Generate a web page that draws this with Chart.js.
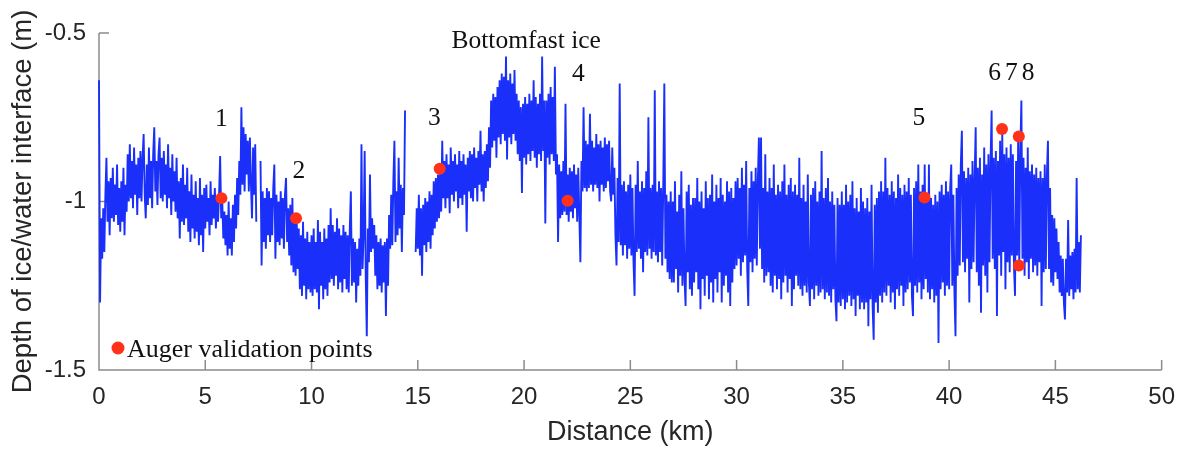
<!DOCTYPE html>
<html>
<head>
<meta charset="utf-8">
<script src="https://cdn.jsdelivr.net/npm/chart.js@4.4.1/dist/chart.umd.min.js"></script>
<style>
  html, body { margin: 0; padding: 0; background: #fff; }
  #wrap { width: 1188px; height: 453px; }
</style>
</head>
<body>
<div id="wrap"><canvas id="perfil" width="1188" height="453"></canvas></div>
<script>
// Depth of the ice/water interface, one reading every 0.05 km (null = no return)
// one row per km of track
const depth = [
  -0.64, -1.30, -1.05, -1.17, -1.02, -1.15, -0.98, -0.87, -1.06, -0.94, -1.10, -0.93, -1.05, -0.90, -1.06, -0.95, -1.04, -0.89, -1.07, -0.96, // 0
  -1.09, -0.94, -1.06, -0.90, -1.10, -0.95, -1.03, -0.86, -1.00, -0.83, -0.99, -0.88, -1.02, -0.84, -0.98, -0.89, -1.04, -0.87, -0.99, -0.85, // 1
  -1.00, -0.87, -0.80, -0.98, -1.05, -0.89, -1.01, -0.84, -0.99, -0.88, -1.02, -0.86, -0.78, -0.97, -0.88, -1.01, -0.86, -0.81, -0.99, -0.87, // 2
  -1.00, -0.85, -0.98, -0.89, -1.02, -0.83, -0.99, -0.90, -1.04, -0.86, -1.00, -0.91, -1.03, -0.87, -1.05, -0.94, -1.11, -0.93, -1.06, -0.89, // 3
  -1.07, -0.95, -1.05, -0.90, -1.09, -0.97, -1.12, -0.92, -1.08, -0.98, -1.11, -0.94, -1.09, -0.99, -1.13, -0.93, -1.10, -0.98, -1.15, -0.96, // 4
  -1.08, -0.95, -1.06, -0.99, -1.10, -0.94, -1.07, -0.98, -1.05, -0.96, -1.08, -0.99, -1.06, -0.98, -0.865, -1.05, -1.00, -1.11, -1.03, -1.13, // 5
  -1.04, -1.16, -1.00, -1.14, -1.05, -1.16, -1.01, -1.12, -0.98, -1.08, -0.93, -1.04, -0.88, -0.98, -0.72, -0.95, -0.78, -0.97, -0.80, -0.92, // 6
  -0.82, -0.97, -0.81, -0.95, -1.05, -0.84, -0.98, -0.83, -1.06, null, null, null, -0.88, -1.19, -0.97, -1.12, -0.99, -1.14, -0.96, -1.10, // 7
  -0.97, -1.12, -0.99, -1.10, -0.96, -0.89, -1.17, -0.98, -1.12, -1.00, -1.13, -0.97, -1.11, -0.99, -1.14, -0.98, -0.93, -1.12, -1.02, -1.16, // 8
  -1.01, -1.19, -0.99, -1.21, -1.04, -1.22, -1.05, -1.20, -1.08, -1.26, -1.10, -1.28, -1.06, -1.25, -1.11, -1.29, -1.09, -1.26, -1.12, -1.27, // 9
  -1.10, -1.28, -1.08, -1.26, -1.12, -1.27, -1.055, -1.32, -1.09, -1.25, -1.12, -1.29, -1.08, -1.26, -1.11, -1.28, -1.07, -1.24, -1.02, -1.23, // 10
  -1.07, -1.25, -1.09, -1.22, -1.05, -1.26, -1.08, -1.24, -1.10, -1.27, -1.07, -1.23, -1.09, -1.26, -1.10, -1.27, -1.08, -0.97, -1.25, -1.11, // 11
  -1.24, -1.12, -1.30, -1.14, -1.25, -1.11, -1.22, -0.83, -1.20, -1.10, -0.85, -1.22, -1.40, -1.08, -1.18, -0.92, -1.15, -1.05, -1.14, -1.07, // 12
  -1.22, -1.10, -1.26, -1.12, -1.25, -1.11, -1.27, -1.13, -1.24, -1.12, -1.34, -1.11, -1.25, -1.04, -1.14, -0.98, -1.13, -0.94, -0.82, -1.12, // 13
  -0.97, -1.10, -0.87, -1.08, -0.95, -1.15, -0.96, -1.04, -0.73, null, null, null, null, null, null, null, null, null, -1.15, -1.02, // 14
  -1.14, -0.98, -1.16, -1.02, -1.22, -1.01, -1.13, -0.99, -1.15, -1.00, -1.12, -0.97, -1.14, -0.98, -1.10, -0.94, -1.08, -0.93, -1.06, -0.92, // 15
  -1.05, -0.91, -1.03, -0.82, -0.99, -0.88, -1.02, -0.86, -0.99, -0.89, -1.035, -0.84, -0.98, -0.88, -1.00, -0.86, -0.97, -0.89, -1.02, -0.85, // 16
  -0.99, -0.88, -1.01, -0.86, -0.98, -0.89, -1.09, -0.87, -0.97, -0.85, -0.99, -0.86, -1.00, -0.84, -0.96, -0.87, -1.00, -0.85, -0.95, -0.79, // 17
  -0.97, -0.86, -1.00, -0.85, -0.96, -0.83, -0.94, -0.78, -0.90, -0.70, -0.84, -0.68, -0.82, -0.69, -0.87, -0.66, -0.81, -0.64, -0.83, -0.62, // 18
  -0.80, -0.63, -0.82, -0.57, -0.875, -0.64, -0.81, -0.62, -0.83, -0.65, -0.80, -0.61, -0.82, -0.68, -0.86, -0.70, -0.88, -0.72, -0.975, -0.71, // 19
  -0.87, -0.69, -0.89, -0.71, -0.86, -0.68, -0.88, -0.70, -0.85, -0.64, -0.87, -0.69, -0.90, -0.71, -0.86, -0.68, -0.88, -0.57, -0.85, -0.70, // 20
  -1.065, -0.70, -0.87, -0.68, -0.89, -0.66, -0.86, -0.69, -0.88, -0.60, -0.92, -0.86, -1.12, -0.89, -1.05, -0.91, -1.04, -0.88, -1.03, -0.71, // 21
  -1.04, -0.92, -1.06, -0.90, -1.03, -0.91, -1.05, -0.89, -1.02, -0.92, -1.06, -0.90, -1.04, -1.18, -0.88, -0.97, -0.72, -0.96, -0.82, -0.97, // 22
  -0.83, -0.96, -0.74, -0.95, -0.82, -0.97, -0.84, -0.95, -0.80, -0.96, -0.83, -1.00, -0.82, -0.95, -0.84, -0.97, -0.81, -0.96, -0.83, -0.94, // 23
  -0.82, -0.97, -1.00, -0.84, -0.98, -0.90, -1.10, -1.19, -0.93, -1.12, -0.65, -1.13, -0.95, -1.16, -0.94, -1.13, -0.97, -1.17, -0.95, -1.14, // 24
  -0.92, -1.16, -0.96, -1.18, -1.28, -0.95, -1.15, -0.88, -1.14, -0.97, -1.17, -0.94, -1.21, -0.96, -1.15, -0.91, -1.16, -0.75, -1.14, -0.96, // 25
  -1.17, -0.95, -1.15, -0.67, -1.16, -0.97, -1.18, -0.94, -1.15, -0.96, -1.19, -0.95, -0.65, -1.17, -0.98, -1.21, -1.00, -1.23, -0.97, -1.24, // 26
  -1.00, -1.24, -0.94, -1.20, -1.03, -1.27, -0.98, -1.22, -0.91, -1.25, -1.02, -1.23, -1.31, -0.97, -1.21, -0.95, -1.26, -1.01, -1.28, -0.99, // 27
  -1.24, -0.99, -1.21, -0.93, -1.26, -1.00, -1.32, -0.97, -1.23, -1.02, -1.28, -0.94, -1.22, -0.99, -1.29, -0.98, -1.24, -0.92, -1.30, -1.00, // 28
  -1.23, -0.95, -1.27, -0.99, -1.21, -0.93, -1.30, -0.98, -1.25, -1.00, -1.22, -0.94, -1.27, -0.97, -1.31, -0.96, -1.24, -0.99, -1.20, -0.94, // 29
  -1.19, -0.93, -1.17, -0.96, -1.22, -0.90, -1.18, -0.95, -1.16, -0.88, -1.20, -1.31, -0.96, -1.18, -0.91, -1.21, -0.94, -1.17, -0.90, -1.19, // 30
  -0.94, -0.81, -1.14, -0.81, -1.20, -0.96, -1.24, -0.86, -1.22, -0.97, -1.21, -0.93, -1.25, -0.96, -1.27, -0.89, -1.22, -0.98, -1.26, -0.95, // 31
  -1.23, -0.97, -1.29, -0.94, -1.24, -0.89, -1.22, -0.98, -1.27, -0.95, -1.23, -0.93, -1.31, -0.97, -1.26, -0.95, -1.22, -0.98, -1.25, -0.87, // 32
  -1.26, -0.99, -1.28, -0.95, -1.25, -1.00, -1.27, -0.92, -1.24, -1.31, -0.98, -1.26, -0.96, -1.29, -0.94, -1.25, -1.00, -1.28, -0.97, -1.27, // 33
  -0.85, -1.26, -0.99, -1.29, -0.96, -1.27, -0.93, -1.28, -1.00, -1.30, -0.97, -1.26, -1.01, -1.29, -1.355, -0.99, -1.30, -1.01, -1.31, -0.97, // 34
  -1.29, -1.01, -1.32, -0.95, -1.30, -1.00, -1.28, -0.98, -1.31, -0.94, -1.29, -1.02, -1.34, -0.99, -1.28, -1.03, -1.32, -0.96, -1.30, -1.00, // 35
  -1.32, -1.02, -1.30, -0.99, -1.37, -1.03, -1.29, -0.95, -1.31, -1.41, -1.01, -1.30, -0.99, -1.33, -0.97, -1.28, -0.94, -1.30, -0.97, -1.27, // 36
  -0.87, -1.28, -0.96, -1.25, -0.98, -1.30, -0.94, -1.27, -0.97, -1.32, -0.99, -1.26, -0.92, -1.28, -0.96, -1.25, -0.98, -1.31, -0.95, -1.27, // 37
  -0.97, -1.26, -0.93, -1.24, -0.98, -1.28, -1.34, -0.96, -1.25, -0.94, -1.27, -0.89, -1.24, -0.97, -1.29, -0.95, -1.26, -0.89, -1.23, -0.99, // 38
  -1.27, -0.89, -1.29, -0.99, -1.26, -1.01, -1.30, -0.98, -1.28, -1.00, -1.42, -0.97, -1.26, -0.95, -1.24, -0.98, -1.28, -0.94, -1.25, -0.97, // 39
  -1.26, -0.96, -0.89, -1.25, -0.98, -1.27, -1.40, -0.96, -1.22, -0.92, -1.19, -0.89, -0.79, -1.18, -0.91, -1.21, -0.93, -1.17, -0.90, -1.30, // 40
  -0.92, -1.20, -0.88, -1.18, -0.93, -0.78, -1.21, -0.90, -1.25, -0.87, -1.33, -0.92, -1.19, -0.84, -1.22, -0.89, -1.27, -0.86, -1.18, -0.88, // 41
  -0.73, -1.17, -0.87, -1.20, -0.85, -1.34, -0.88, -1.16, -0.82, -1.22, -0.80, -1.15, -0.86, -1.26, -0.84, -1.18, -0.87, -1.21, -0.83, -1.16, // 42
  -0.86, -1.19, -1.28, -0.88, -1.16, -0.80, -1.20, -0.85, -0.70, -1.17, -0.87, -1.22, -0.90, -1.18, -0.84, -1.23, -0.91, -1.17, -0.89, -1.21, // 43
  -0.92, -1.19, -0.90, -1.22, -0.93, -1.18, -0.91, -1.31, -0.93, -1.21, -0.89, -1.20, -0.92, -0.82, -1.20, -0.96, -1.24, -1.04, -1.25, -1.05, // 44
  -1.21, -1.08, -1.23, -1.12, -1.27, -1.16, -1.28, -1.17, -1.30, -1.35, -1.17, -1.27, -1.055, -1.28, -1.16, -1.26, -1.15, -1.29, -1.14, -1.27, // 45
  -0.93, -1.26, -1.12, -1.27, -1.10                                                                                                         // 46
];
const stepKm = 0.05;

// Auger holes along the track
const augerKm = [5.76, 9.27, 16.03, 22.05, 38.84, 42.49, 43.28, 43.28];
const augerDepth = [-0.99, -1.05, -0.903, -0.998, -0.988, -0.785, -0.807, -1.19];

// Site labels written above the profile
const siteLabels = [
  { text: "1", x: 5.76, y: -0.755 },
  { text: "2", x: 9.41, y: -0.91 },
  { text: "3", x: 15.78, y: -0.752 },
  { text: "4", x: 22.56, y: -0.622 },
  { text: "5", x: 38.58, y: -0.752 },
  { text: "678", x: 43.02, y: -0.619 },
  { text: "Bottomfast ice", x: 20.1, y: -0.524 }
];

const AXIS = "#8c8c8c";
const TEXT = "#262626";
const BLUE = "#1a30fa";
const RED = "#ff3219";
const SANS = "'Liberation Sans', Arial, sans-serif";
const SERIF = "'Liberation Serif', 'Times New Roman', serif";

const profile = depth.map((d, i) => ({ x: +(i * stepKm).toFixed(2), y: d }));
const augers = augerKm.map((km, i) => ({ x: km, y: augerDepth[i] }));

// axes with inward ticks, labels and the legend
const ejes = {
  id: "ejes",
  beforeDatasetsDraw(chart) {
    const { ctx, chartArea: a, scales: { x, y } } = chart;
    ctx.save();
    ctx.strokeStyle = AXIS;
    ctx.lineWidth = 1.5;
    ctx.beginPath();
    ctx.moveTo(a.left, a.top);
    ctx.lineTo(a.left, a.bottom);
    ctx.lineTo(a.right, a.bottom);
    x.ticks.forEach(t => {
      const px = x.getPixelForValue(t.value);
      ctx.moveTo(px, a.bottom);
      ctx.lineTo(px, a.bottom - 10);
    });
    y.ticks.forEach(t => {
      const py = y.getPixelForValue(t.value);
      ctx.moveTo(a.left, py);
      ctx.lineTo(a.left + 10, py);
    });
    ctx.stroke();
    ctx.restore();
  },
  afterDatasetsDraw(chart) {
    const { ctx, chartArea: a, scales: { x, y } } = chart;
    ctx.save();
    ctx.fillStyle = "#111";
    ctx.textAlign = "center";
    ctx.textBaseline = "middle";
    ctx.font = "25.5px " + SERIF;
    siteLabels.forEach(l => {
      ctx.letterSpacing = l.text === "678" ? "4px" : "0px";
      ctx.fillText(l.text, x.getPixelForValue(l.x), y.getPixelForValue(l.y));
    });
    ctx.letterSpacing = "0px";

    // legend
    const lx = a.left + 19, ly = a.bottom - 22;
    ctx.fillStyle = RED;
    ctx.beginPath();
    ctx.arc(lx, ly, 6.5, 0, Math.PI * 2);
    ctx.fill();
    ctx.fillStyle = "#111";
    ctx.textAlign = "left";
    ctx.font = "26px " + SERIF;
    ctx.fillText("Auger validation points", lx + 9, ly + 2);
    ctx.restore();
  }
};

new Chart(document.getElementById("perfil"), {
  type: "line",
  data: {
    datasets: [
      {
        label: "Auger validation points",
        data: augers,
        showLine: false,
        pointRadius: 6,
        pointBackgroundColor: RED,
        pointBorderWidth: 0,
        order: 0
      },
      {
        label: "Depth",
        data: profile,
        borderColor: BLUE,
        borderWidth: 1.9,
        borderJoinStyle: "bevel",
        pointRadius: 0,
        tension: 0,
        spanGaps: false,
        clip: 4,
        order: 1
      }
    ]
  },
  options: {
    responsive: false,
    animation: false,
    events: [],
    layout: { padding: { top: 33, right: 21, bottom: 0, left: 0 } },
    plugins: { legend: { display: false }, tooltip: { enabled: false } },
    scales: {
      x: {
        type: "linear",
        min: 0,
        max: 50,
        afterFit: s => { s.height = 83; },
        grid: { display: false, drawTicks: false },
        border: { display: false },
        ticks: { stepSize: 5, padding: 13, color: TEXT, font: { family: SANS, size: 24 } },
        title: {
          display: true,
          text: "Distance (km)",
          color: TEXT,
          font: { family: SANS, size: 27 },
          padding: { top: 0, bottom: 4 }
        }
      },
      y: {
        min: -1.5,
        max: -0.5,
        afterFit: s => { s.width = 99; },
        grid: { display: false, drawTicks: false },
        border: { display: false },
        ticks: {
          stepSize: 0.5,
          padding: 13,
          color: TEXT,
          font: { family: SANS, size: 24 },
          callback: v => String(v)
        },
        title: {
          display: true,
          text: "Depth of ice/water interface (m)",
          color: TEXT,
          font: { family: SANS, size: 27.5 },
          padding: { top: 7, bottom: 0 }
        }
      }
    }
  },
  plugins: [ejes]
});
</script>
</body>
</html>
